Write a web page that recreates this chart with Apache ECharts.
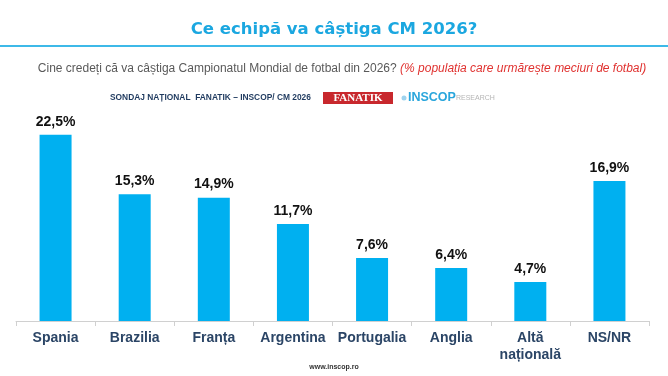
<!DOCTYPE html>
<html><head><meta charset="utf-8">
<script src="https://cdn.jsdelivr.net/npm/echarts@6/dist/echarts.min.js"></script>
<style>html,body{margin:0;padding:0;background:#fff}#c{width:668px;height:376px}</style>
</head><body><div id="c"></div>
<script>
const categories = ['Spania','Brazilia','Franța','Argentina','Portugalia','Anglia','Altă\nnațională','NS/NR'];
const values = [22.5, 15.3, 14.9, 11.7, 7.6, 6.4, 4.7, 16.9];

const chart = echarts.init(document.getElementById('c'), null, {renderer:'canvas'});
const NARROW = '"Liberation Sans Narrow","Arial Narrow","Liberation Sans",sans-serif';
chart.setOption({
  animation:false,
  backgroundColor:'#fff',
  title:{
    text:'Ce echipă va câștiga CM 2026?',
    left:'center', top:16,
    textStyle:{color:'#1ba7e0',fontSize:16.5,fontWeight:'bold',fontFamily:'"DejaVu Sans",sans-serif'}
  },
  grid:{left:16,right:19,top:114,bottom:55},
  xAxis:{
    type:'category', data:categories,
    axisLine:{lineStyle:{color:'#d0d0d0',width:1}},
    axisTick:{show:true,length:5,lineStyle:{color:'#d0d0d0'}},
    axisLabel:{color:'#2b4566',fontSize:14,fontWeight:'bold',fontFamily:NARROW,margin:9,lineHeight:17,interval:0}
  },
  yAxis:{type:'value',min:0,max:25,show:false,splitLine:{show:false}},
  series:[{
    type:'bar', data:values, barWidth:32,
    itemStyle:{color:'#00b0f0'},
    label:{show:true,position:'top',distance:6,color:'#111',fontSize:14,fontWeight:'bold',fontFamily:NARROW,
      formatter:p=>String(p.value.toFixed(1)).replace('.',',')+'%'}
  }],
  graphic:[
    {type:'line',shape:{x1:0,y1:46,x2:668,y2:46},style:{stroke:'#3db9e8',lineWidth:2}},
    {type:'text',x:342,y:69,style:{
      text:'{g|Cine credeți că va câștiga Campionatul Mondial de fotbal din 2026? }{r|(% populația care urmărește meciuri de fotbal)}',
      align:'center',verticalAlign:'middle',
      rich:{
        g:{fill:'#595959',fontSize:12,fontFamily:'"Liberation Sans",Arial,sans-serif'},
        r:{fill:'#e0312f',fontSize:12,fontStyle:'italic',fontFamily:'"Liberation Sans",Arial,sans-serif'}
      }}},
    {type:'text',x:110,y:98,style:{text:'SONDAJ NAȚIONAL  FANATIK – INSCOP/ CM 2026',fill:'#1f3a5f',fontSize:8.4,fontWeight:'bold',fontFamily:NARROW,verticalAlign:'middle'}},
    {type:'rect',shape:{x:323,y:92,width:70,height:12},style:{fill:'#c8282d'}},
    {type:'text',x:358,y:98.5,style:{text:'FANATIK',fill:'#fff',fontSize:11,fontWeight:'bold',fontFamily:'"Liberation Serif",serif',align:'center',verticalAlign:'middle'}},
    {type:'circle',shape:{cx:404,cy:98,r:2.5},style:{fill:'#9fd3ee'}},
    {type:'text',x:408,y:98,style:{text:'{a|INSCOP}{b|RESEARCH}',verticalAlign:'middle',
      rich:{a:{fill:'#2aa6dc',fontSize:12.5,fontWeight:'bold',fontFamily:'"Liberation Sans",sans-serif'},
            b:{fill:'#b5b5b5',fontSize:7,fontFamily:'"Liberation Sans",sans-serif'}}}},
    {type:'text',left:'center',top:364,style:{text:'www.inscop.ro',fill:'#333',fontSize:7,fontWeight:'bold',fontFamily:'"Liberation Sans",sans-serif'}}
  ]
});
</script></body></html>
